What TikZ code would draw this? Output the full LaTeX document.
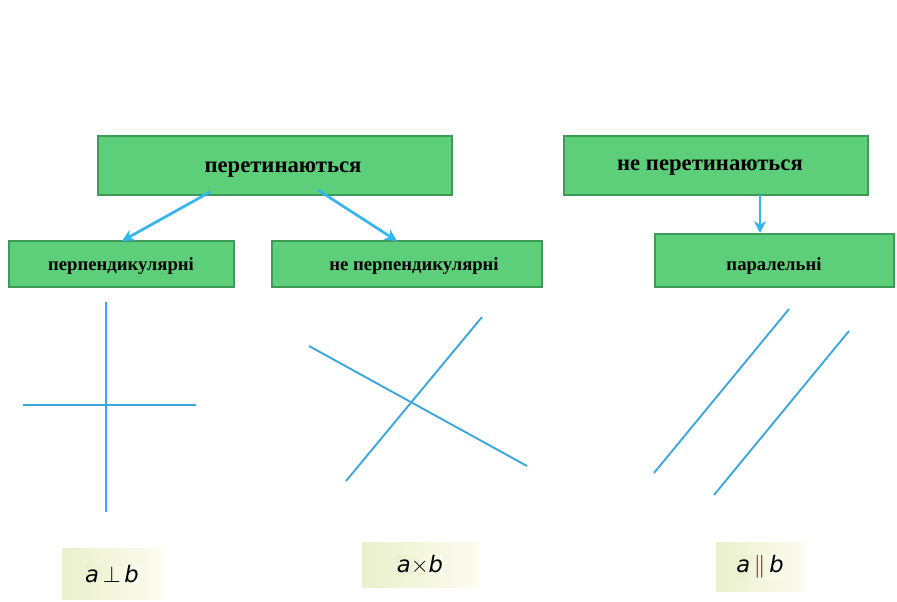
\documentclass[tikz,border=0pt]{standalone}
\usepackage{fontspec}
\setmainfont{Liberation Serif}
\newfontfamily\fsans{DejaVu Sans}
\usetikzlibrary{arrows.meta}
\definecolor{gbox}{HTML}{5DCF7A}
\definecolor{gedge}{HTML}{3F9A58}
\definecolor{lblue}{HTML}{3AA6DD}
\definecolor{abl}{HTML}{33B5F0}
\definecolor{fy1}{HTML}{EAF0CC}
\definecolor{fy2}{HTML}{FCFCF0}
\tikzset{
 gb/.style={draw=gedge,fill=gbox,line width=0.8pt,font=\bfseries\fontsize{17}{17}\selectfont},
 ln/.style={draw=lblue,line width=1.4pt},
 ar/.style={draw=abl,line width=2pt,-{Stealth[length=9pt,width=9pt]}},
 fb/.style={left color=fy1,right color=fy2,draw=none,inner sep=0pt,font=\fsans\itshape\fontsize{17}{17}\selectfont}
}
\begin{document}
\begin{tikzpicture}[x=0.75pt,y=-0.75pt]
\useasboundingbox (0,0) rectangle (897,601);
\fill[white] (0,0) rectangle (897,601);
\draw[gb] (98,136) rectangle (452,195);
\node[font=\bfseries\fontsize{17}{17}\selectfont] (p) at (283,170) {перетинаються};
\draw[gb] (564,136) rectangle (868,195);
\node[font=\bfseries\fontsize{17}{17}\selectfont] (np) at (710,168) {не перетинаються};
\draw[gb] (9,241) rectangle (234,287);
\node[font=\bfseries\fontsize{14}{14}\selectfont] (pp) at (121,266) {перпендикулярні};
\draw[gb] (272,241) rectangle (542,287);
\node[font=\bfseries\fontsize{14}{14}\selectfont] (npp) at (414,266) {не перпендикулярні};
\draw[gb] (655,234) rectangle (894,287);
\node[font=\bfseries\fontsize{14}{14}\selectfont] (par) at (774,266) {паралельні};
\coordinate (a1) at (210,192); \coordinate (t1) at (122,241);
\coordinate (a2) at (318,190); \coordinate (t2) at (397,241);
\coordinate (a3) at (760,195); \coordinate (t3) at (760,233);
\draw[ar] (a1) -- (t1);
\draw[ar] (a2) -- (t2);
\draw[ar] (a3) -- (t3);
\draw[ln] (106,302) -- (106,512);
\draw[ln] (23,405) -- (196,405);
\draw[ln] (309,346) -- (527,466);
\draw[ln] (346,481) -- (482,317);
\draw[ln] (654,473) -- (789,309);
\draw[ln] (714,495) -- (849,331);
\fill[left color=fy1,right color=fy2] (62,548) rectangle (162,599);
\node[fb] (f1) at (112,574) {a\,$\perp$\,b};
\fill[left color=fy1,right color=fy2] (362,542) rectangle (479,587);
\node[fb] (f2) at (420,565) {a$\times$b};
\fill[left color=fy1,right color=fy2] (716,542) rectangle (805,591);
\node[fb] (f3) at (760,567) {a\,{\upshape\textcolor{purple!70!black}{$\|$}}\,b};
\end{tikzpicture}
\end{document}
